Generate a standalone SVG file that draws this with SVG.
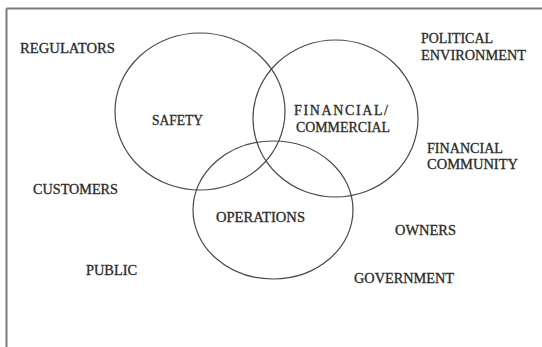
<svg xmlns="http://www.w3.org/2000/svg" width="542" height="347" viewBox="0 0 542 347">
<style>
.bg{fill:#ffffff}
.frame{stroke:#7a7a7a;stroke-width:2;fill:none}
.ring{fill:none;stroke:#4a4a4a;stroke-width:1.2}
.lbl{font-family:"Liberation Serif","Times New Roman",serif;font-size:14px;fill:#2a2a2a;stroke:#2a2a2a;stroke-width:0.3}
</style>
<rect class="bg" x="0" y="0" width="542" height="347"/>
<g id="frame">
<line class="frame" x1="6.5" y1="8.5" x2="542" y2="8.5"/>
<line class="frame" x1="6.5" y1="8.5" x2="6.5" y2="347"/>
</g>
<g id="safety">
<ellipse class="ring" cx="200" cy="111.5" rx="85" ry="78.5"/>
<text class="lbl" x="152" y="125" textLength="51" lengthAdjust="spacingAndGlyphs">SAFETY</text>
</g>
<g id="financial-commercial">
<ellipse class="ring" cx="335.5" cy="118.5" rx="82.5" ry="78.5"/>
<text class="lbl" x="294" y="115" textLength="94" lengthAdjust="spacing">FINANCIAL/</text>
<text class="lbl" x="296" y="131.5" textLength="94" lengthAdjust="spacingAndGlyphs">COMMERCIAL</text>
</g>
<g id="operations">
<ellipse class="ring" cx="273" cy="210" rx="80" ry="69"/>
<text class="lbl" x="216" y="222" textLength="89" lengthAdjust="spacingAndGlyphs">OPERATIONS</text>
</g>
<g id="regulators"><text class="lbl" x="20" y="53" textLength="95" lengthAdjust="spacingAndGlyphs">REGULATORS</text></g>
<g id="political-environment">
<text class="lbl" x="421" y="43" textLength="72" lengthAdjust="spacingAndGlyphs">POLITICAL</text>
<text class="lbl" x="421" y="59.5" textLength="105" lengthAdjust="spacingAndGlyphs">ENVIRONMENT</text>
</g>
<g id="financial-community">
<text class="lbl" x="427" y="153" textLength="76" lengthAdjust="spacingAndGlyphs">FINANCIAL</text>
<text class="lbl" x="427" y="169" textLength="91" lengthAdjust="spacingAndGlyphs">COMMUNITY</text>
</g>
<g id="customers"><text class="lbl" x="33" y="194" textLength="85" lengthAdjust="spacingAndGlyphs">CUSTOMERS</text></g>
<g id="public"><text class="lbl" x="86" y="275" textLength="51" lengthAdjust="spacingAndGlyphs">PUBLIC</text></g>
<g id="owners"><text class="lbl" x="395" y="235" textLength="61" lengthAdjust="spacingAndGlyphs">OWNERS</text></g>
<g id="government"><text class="lbl" x="354" y="283" textLength="100" lengthAdjust="spacingAndGlyphs">GOVERNMENT</text></g>
</svg>
